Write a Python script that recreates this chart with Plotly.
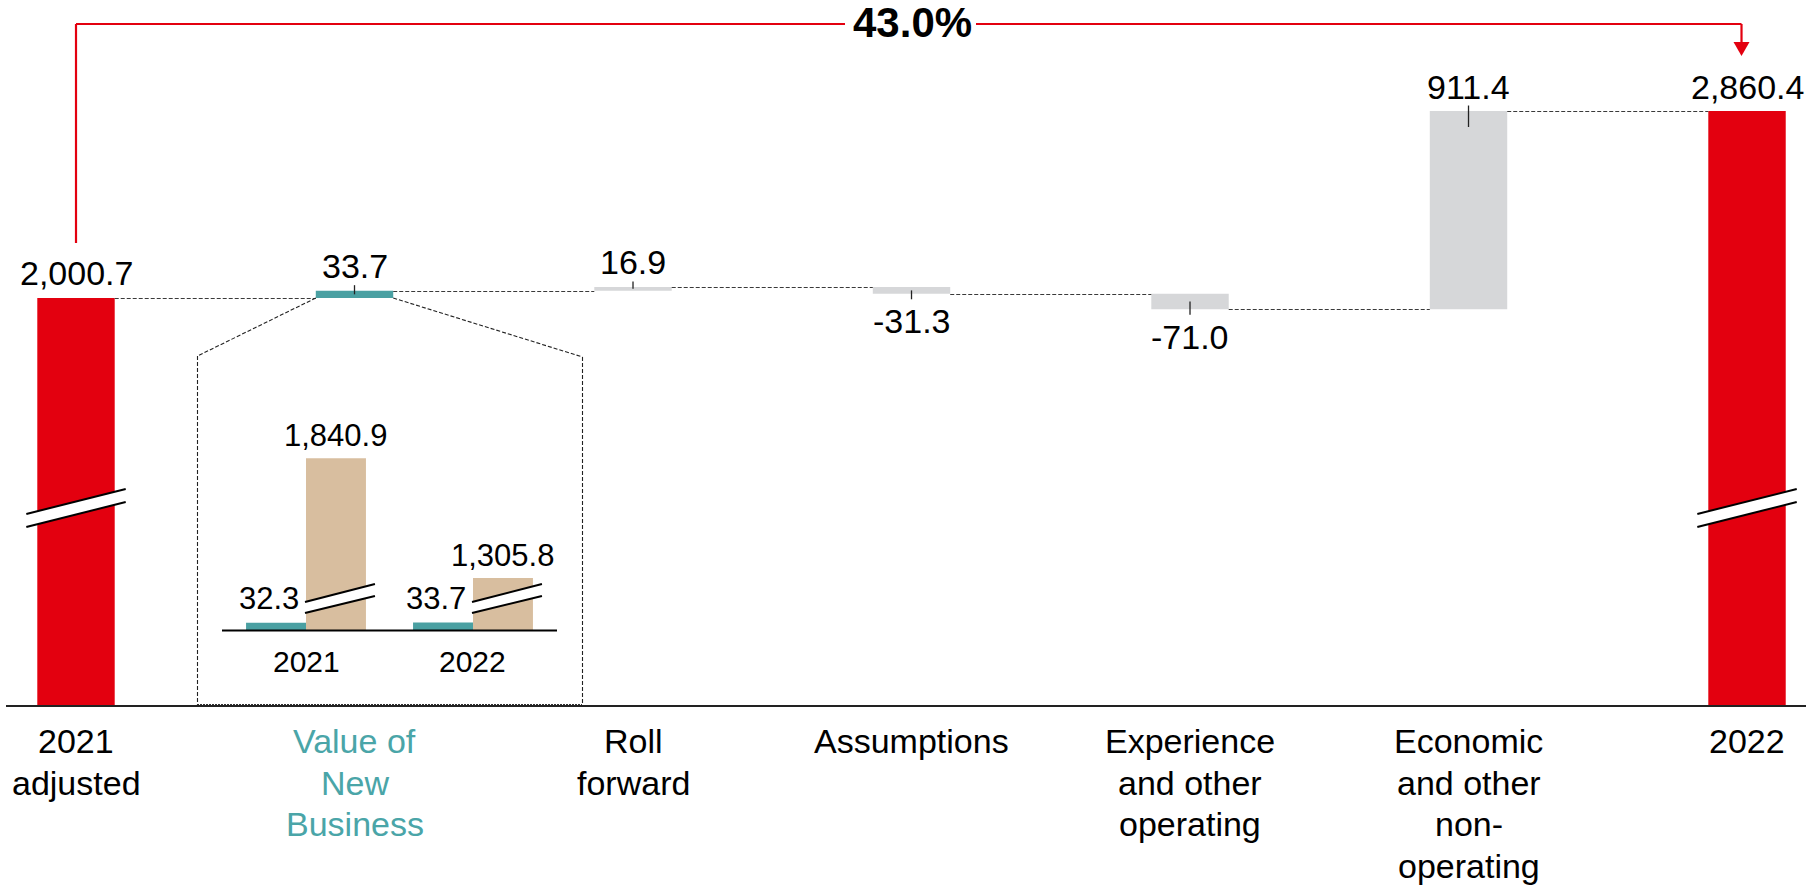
import plotly.graph_objects as go

# ---------------- data ----------------
categories = [
    ["2021", "adjusted"],
    ["Value of", "New", "Business"],
    ["Roll", "forward"],
    ["Assumptions"],
    ["Experience", "and other", "operating"],
    ["Economic", "and other", "non-", "operating"],
    ["2022"],
]
measures = ["total", "relative", "relative", "relative", "relative", "relative", "total"]
values = [2000.7, 33.7, 16.9, -31.3, -71.0, 911.4, 2860.4]
value_labels = ["2,000.7", "33.7", "16.9", "-31.3", "-71.0", "911.4", "2,860.4"]
growth_label = "43.0%"

inset_years = ["2021", "2022"]
inset_vnb = [32.3, 33.7]
inset_vnb_labels = ["32.3", "33.7"]
inset_other = [1840.9, 1305.8]
inset_other_labels = ["1,840.9", "1,305.8"]

# ---------------- style ----------------
RED = "#E3000F"
TEAL = "#4AA0A2"
TEAL_TXT = "#4AA5A8"
GRAY = "#D6D7D9"
TAN = "#D8BE9F"
FONT = "Liberation Sans, Arial, sans-serif"
W, H = 1806, 885

# main axis geometry
X0, X1 = -0.2729, 6.2118
Y0, Y1 = 129.4, 3370.8
BASE_PY = 705.0
BW = 0.278

def px_x(x):
    return (x - X0) / (X1 - X0) * W

def py_y(v):
    return BASE_PY - (v - Y0) / (Y1 - Y0) * BASE_PY

def xp(px):
    return px / W

def yp(py):
    return 1 - py / H

# inset geometry
IX0, IX1 = -0.503, 1.503
I_LEFT, I_RIGHT = 222, 557
I_BASE, I_TOP = 630, 400
I_SCALE = 0.224
I_BREAK = 1074
IBW = 0.359

def ipx_x(x):
    return I_LEFT + (x - IX0) / (IX1 - IX0) * (I_RIGHT - I_LEFT)

def ipy_y(v):
    return I_BASE - v * I_SCALE

# ---------------- compute waterfall ----------------
bases, heights, colors = [], [], []
cum = 0.0
levels = []
for i, (m, v) in enumerate(zip(measures, values)):
    if m == "total":
        bases.append(0)
        heights.append(v)
        colors.append(RED)
        cum = v
    else:
        bases.append(cum)
        heights.append(v)
        colors.append(TEAL if i == 1 else GRAY)
        cum = cum + v
    levels.append(cum)

fig = go.Figure()
fig.add_trace(go.Bar(
    x=list(range(len(values))), y=heights, base=bases, width=BW,
    marker=dict(color=colors, line=dict(width=0)),
    hoverinfo="skip", showlegend=False, xaxis="x", yaxis="y",
))
fig.add_trace(go.Bar(
    x=[0, 1], y=inset_vnb, base=0, width=IBW, offset=-IBW,
    marker=dict(color=TEAL, line=dict(width=0)),
    hoverinfo="skip", showlegend=False, xaxis="x2", yaxis="y2",
))
fig.add_trace(go.Bar(
    x=[0, 1], y=inset_other, base=-I_BREAK, width=IBW, offset=0,
    marker=dict(color=TAN, line=dict(width=0)),
    hoverinfo="skip", showlegend=False, xaxis="x2", yaxis="y2",
))

shapes = []
annotations = []

def line(x0, y0, x1, y1, color="#000", width=1, dash=None):
    d = dict(color=color, width=width)
    if dash:
        d["dash"] = dash
    shapes.append(dict(type="line", xref="paper", yref="paper",
                       x0=xp(x0), y0=yp(y0), x1=xp(x1), y1=yp(y1), line=d, layer="above"))

def poly(pts, fill, lw=0, lc="rgba(0,0,0,0)"):
    path = "M " + " L ".join(f"{xp(a):.6f},{yp(b):.6f}" for a, b in pts) + " Z"
    shapes.append(dict(type="path", xref="paper", yref="paper", path=path,
                       fillcolor=fill, line=dict(width=lw, color=lc), layer="above"))

# connectors
for i in range(len(values) - 1):
    lvl = levels[i]
    xa = px_x(i + BW / 2)
    xb = px_x(i + 1 - BW / 2)
    yy = round(py_y(lvl)) + 0.5
    line(xa, yy, xb, yy, color="#3a3a3a", width=1.1, dash="4px,2px")

# value labels and leader ticks
for i, (m, v) in enumerate(zip(measures, values)):
    cx = px_x(i)
    if m == "total":
        top = py_y(v)
        cy = top - 24.5
    else:
        start = bases[i]
        end = start + v
        top = py_y(max(start, end))
        bot = py_y(min(start, end))
        h = bot - top
        inner = min(16, h / 2)
        if v >= 0:
            cy = top - 24.5
            line(cx, top - 5.5, cx, top + inner, color="#222", width=1.3)
        else:
            cy = bot + 27.5
            line(cx, bot + 5.5, cx, bot - inner, color="#222", width=1.3)
    annotations.append(dict(x=xp(cx), y=yp(cy), xref="paper", yref="paper",
                            text=value_labels[i], showarrow=False,
                            xanchor="center", yanchor="middle",
                            font=dict(family=FONT, size=34, color="#000")))

# category labels (one annotation per line)
for i, lines_ in enumerate(categories):
    col = TEAL_TXT if i == 1 else "#000"
    for j, t in enumerate(lines_):
        annotations.append(dict(x=xp(px_x(i)), y=yp(741.2 + 41.6 * j), xref="paper", yref="paper",
                                text=t, showarrow=False, xanchor="center", yanchor="middle",
                                font=dict(family=FONT, size=34, color=col)))

# axis line
line(6, 706, W, 706, color="#222", width=2)

# axis breaks on total bars
for i, m in enumerate(measures):
    if m != "total":
        continue
    L = px_x(i - BW / 2) - 11
    R = px_x(i + BW / 2) + 11
    poly([(L, 514), (R, 489), (R, 502), (L, 527)], "white")
    line(L, 514, R, 489, color="#000", width=2)
    line(L, 527, R, 502, color="#000", width=2)

# inset dashed outline
tl = px_x(1 - BW / 2)
tr = px_x(1 + BW / 2)
ty = py_y(levels[0])
for pts in ([(tl, ty), (197.5, 356), (197.5, 705)], [(tr, ty), (582.5, 357), (582.5, 705)]):
    for a, b in zip(pts[:-1], pts[1:]):
        line(a[0], a[1], b[0], b[1], color="#222", width=1.1, dash="4px,2px")
line(197, 704.5, 582, 704.5, color="#333", width=1, dash="2px,1px")

# inset baseline
line(I_LEFT, I_BASE + 0.5, I_RIGHT, I_BASE + 0.5, color="#000", width=2)

# inset breaks, labels
for k in range(2):
    L = ipx_x(k) - 1
    R = ipx_x(k + IBW) + 9
    poly([(L, 602), (R, 584), (R, 596), (L, 613)], "white")
    line(L, 602, R, 584, color="#000", width=2)
    line(L, 613, R, 596, color="#000", width=2)
    # tan label
    annotations.append(dict(x=xp(ipx_x(k + IBW / 2)), y=yp(ipy_y(inset_other[k] - I_BREAK) - 23),
                            xref="paper", yref="paper", text=inset_other_labels[k], showarrow=False,
                            xanchor="center", yanchor="middle",
                            font=dict(family=FONT, size=31, color="#000")))
    # teal label
    annotations.append(dict(x=xp(ipx_x(k - IBW / 2) - 7), y=yp(ipy_y(inset_vnb[k]) - 24),
                            xref="paper", yref="paper", text=inset_vnb_labels[k], showarrow=False,
                            xanchor="center", yanchor="middle",
                            font=dict(family=FONT, size=31, color="#000")))
    # year label
    annotations.append(dict(x=xp(ipx_x(k)), y=yp(I_BASE + 31), xref="paper", yref="paper",
                            text=inset_years[k], showarrow=False, xanchor="center", yanchor="middle",
                            font=dict(family=FONT, size=30, color="#000")))

# growth bracket
BX_L = px_x(0)
BX_R = px_x(6) - 5.5
BR_Y = 24
line(BX_L, 243, BX_L, BR_Y, color=RED, width=2.2)
line(BX_L, BR_Y, 845, BR_Y, color=RED, width=2.2)
line(976, BR_Y, BX_R, BR_Y, color=RED, width=2.2)
line(BX_R, BR_Y, BX_R, 44, color=RED, width=2.2)
poly([(BX_R - 8, 42), (BX_R + 8, 42), (BX_R, 56)], RED)
annotations.append(dict(x=xp(912), y=yp(23), xref="paper", yref="paper",
                        text="<b>" + growth_label + "</b>", showarrow=False,
                        xanchor="center", yanchor="middle",
                        font=dict(family=FONT, size=42, color="#000")))

fig.update_layout(
    width=W, height=H,
    margin=dict(l=0, r=0, t=0, b=0, pad=0),
    paper_bgcolor="white", plot_bgcolor="white",
    barmode="overlay",
    showlegend=False,
    xaxis=dict(domain=[0, 1], range=[X0, X1], visible=False, fixedrange=True),
    yaxis=dict(domain=[1 - BASE_PY / H, 1], range=[Y0, Y1], visible=False, fixedrange=True),
    xaxis2=dict(domain=[I_LEFT / W, I_RIGHT / W], range=[IX0, IX1], visible=False,
                anchor="y2", fixedrange=True),
    yaxis2=dict(domain=[1 - I_BASE / H, 1 - I_TOP / H],
                range=[0, (I_BASE - I_TOP) / I_SCALE], visible=False, anchor="x2", fixedrange=True),
    shapes=shapes,
    annotations=annotations,
)

fig.write_html("out.html", config={"displayModeBar": False},
               post_script="document.body.style.margin='0';document.body.style.overflow='hidden';")
